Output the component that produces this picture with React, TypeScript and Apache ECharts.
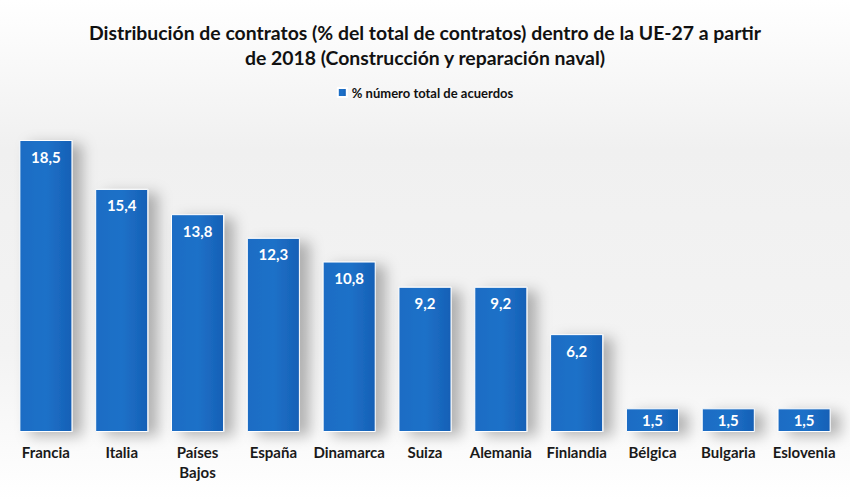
import React, { useEffect, useRef } from "react";
import * as echarts from "echarts";

const categories = ["Francia", "Italia", "Países\nBajos", "España", "Dinamarca", "Suiza", "Alemania", "Finlandia", "Bélgica", "Bulgaria", "Eslovenia"];
const values = [18.5, 15.4, 13.8, 12.3, 10.8, 9.2, 9.2, 6.2, 1.5, 1.5, 1.5];
const seriesName = "% número total de acuerdos";
const titleText = "Distribución de contratos (% del total de contratos) dentro de la UE-27 a partir\nde 2018 (Construcción y reparación naval)";

const FONT = "Lato, 'Noto Sans', sans-serif";

export default function App() {
  const ref = useRef<HTMLDivElement>(null);
  useEffect(() => {
    if (!ref.current) return;
    const chart = echarts.init(ref.current, null, { renderer: "svg" });
    chart.setOption({
      animation: false,
      backgroundColor: {
        type: "linear", x: 0, y: 0, x2: 0, y2: 1,
        colorStops: [
          { offset: 0, color: "#ffffff" },
          { offset: 0.3, color: "#f0f0f0" },
          { offset: 0.7, color: "#f3f3f3" },
          { offset: 1, color: "#ffffff" },
        ],
      },
      title: {
        text: titleText,
        left: "center",
        top: 15,
        textStyle: { fontFamily: FONT, fontSize: 19.4, fontWeight: "bold", color: "#111", lineHeight: 25 },
      },
      legend: {
        top: 81,
        left: "center",
        itemWidth: 9,
        itemHeight: 9,
        itemGap: 6,
        icon: "rect",
        textStyle: { fontFamily: FONT, fontSize: 13, fontWeight: "bold", color: "#111" },
        data: [seriesName],
      },
      grid: { left: 8, right: 8, top: 140, bottom: 68 },
      xAxis: {
        type: "category",
        data: categories,
        axisLine: { show: false },
        axisTick: { show: false },
        axisLabel: { fontFamily: FONT, fontSize: 15, fontWeight: "bold", color: "#1a1a1a", margin: 10, interval: 0, lineHeight: 20 },
      },
      yAxis: {
        type: "value",
        min: 0,
        max: 18.5,
        show: false,
        splitLine: { show: false },
      },
      series: [
        {
          name: seriesName,
          type: "bar",
          data: values.map((v) => (v < 3 ? { value: v, label: { position: "inside" } } : v)),
          barWidth: "70%",
          itemStyle: {
            color: {
              type: "linear", x: 0, y: 0, x2: 1, y2: 0,
              colorStops: [
                { offset: 0, color: "#1a6cc4" },
                { offset: 0.5, color: "#1f71c8" },
                { offset: 1, color: "#1560b6" },
              ],
            },
            borderColor: "#ffffff",
            borderWidth: 1,
            shadowColor: "rgba(0,0,0,0.28)",
            shadowBlur: 14,
            shadowOffsetX: 10,
            shadowOffsetY: 4,
          },
          label: {
            show: true,
            position: "insideTop",
            distance: 9,
            color: "#ffffff",
            fontFamily: FONT,
            fontSize: 15,
            fontWeight: "bold",
            formatter: (p: any) => String(p.value).replace(".", ","),
          },
        },
      ],
      color: ["#1565c0"],
    });
    return () => chart.dispose();
  }, []);
  return <div ref={ref} style={{ width: 850, height: 500, position: "absolute", left: 0, top: 0 }} />;
}
